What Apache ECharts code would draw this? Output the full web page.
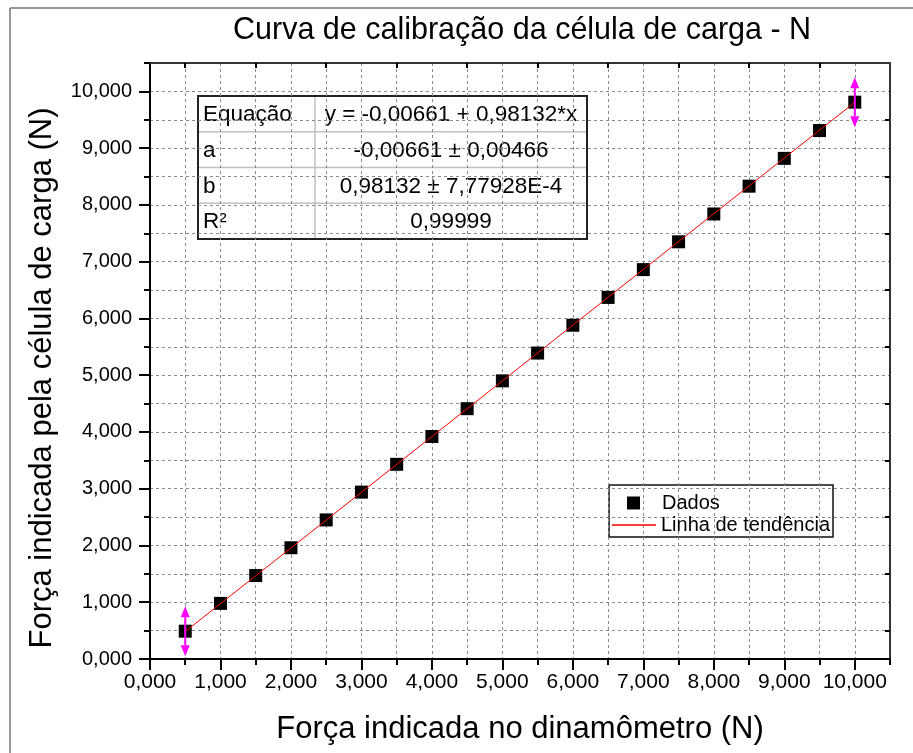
<!DOCTYPE html>
<html>
<head>
<meta charset="utf-8">
<script src="https://cdn.jsdelivr.net/npm/echarts@6/dist/echarts.min.js"></script>
<style>
  html, body { margin: 0; padding: 0; background: #fff; }
  #chart { width: 913px; height: 753px; }
</style>
</head>
<body>
<div id="chart"></div>
<script>
// Calibração da célula de carga: força de referência (dinamômetro) x força lida
const forcaDinamometro = [0.5, 1, 1.5, 2, 2.5, 3, 3.5, 4, 4.5, 5, 5.5, 6, 6.5, 7, 7.5, 8, 8.5, 9, 9.5, 10];
const forcaCelula = [0.49, 0.98, 1.47, 1.96, 2.45, 2.94, 3.43, 3.92, 4.41, 4.90,
                     5.39, 5.88, 6.37, 6.86, 7.35, 7.84, 8.33, 8.82, 9.31, 9.81];

// Ajuste linear y = a + b*x
const ajusteA = -0.00661;
const ajusteAErro = 0.00466;
const ajusteB = 0.98132;
const ajusteBErro = 7.77928e-4;
const ajusteR2 = 0.99999;

// Posições dos rótulos e marcas dos eixos
const rotulosEixo = [0, 1, 2, 3, 4, 5, 6, 7, 8, 9, 10];
const marcasMeio = [0.5, 1.5, 2.5, 3.5, 4.5, 5.5, 6.5, 7.5, 8.5, 9.5];

const FONT = '"Liberation Sans", Arial, sans-serif';
const fmt = (v, d) => v.toFixed(d).replace('.', ',');
const fmtExp = (v, d) => v.toExponential(d).replace('.', ',').replace('e', 'E');

const pontos = forcaDinamometro.map((x, i) => [x, forcaCelula[i]]);
const xIni = forcaDinamometro[0];
const xFim = forcaDinamometro[forcaDinamometro.length - 1];
const linhaTendencia = [[xIni, ajusteA + ajusteB * xIni], [xFim, ajusteA + ajusteB * xFim]];
const marcadoresFaixa = [pontos[0], pontos[pontos.length - 1]];

const labelFmt = v => (Math.abs(v - Math.round(v)) < 1e-9 ? fmt(v, 3) : '');

function mainAxis(extra) {
  return Object.assign({
    type: 'value', min: 0, max: 10.5, interval: 0.5,
    axisLine: { onZero: false, lineStyle: { color: '#000', width: 2 } },
    axisTick: { show: true, length: 6, lineStyle: { color: '#000', width: 2 } },
    splitLine: { show: true, lineStyle: { color: '#8a8a8a', width: 1, type: [3, 3] } },
    nameLocation: 'middle'
  }, extra);
}
function majorTickAxis(extra) {
  return Object.assign({
    type: 'value', min: 0, max: 10.5, interval: 1,
    axisLine: { show: false, onZero: false },
    axisTick: { show: true, customValues: rotulosEixo, length: 11, lineStyle: { color: '#000', width: 2 } },
    axisLabel: { show: false }, splitLine: { show: false }
  }, extra);
}
function frameAxis(extra) {
  return Object.assign({
    type: 'value', min: 0, max: 10.5, interval: 0.5,
    axisLine: { show: true, onZero: false, lineStyle: { color: '#333', width: 2 } },
    axisTick: { show: true, inside: true, customValues: marcasMeio, length: 5, lineStyle: { color: '#000', width: 2 } },
    axisLabel: { show: false }, splitLine: { show: false }
  }, extra);
}

// Tabela com os parâmetros do ajuste
const tabX = 198, tabY = 96, tabW = 389, tabH = 143, colX = 315;
const tabFont = '22.5px ' + FONT;
const linhasTab = [
  ['Equação', 'y = ' + fmt(ajusteA, 5) + ' + ' + fmt(ajusteB, 5) + '*x'],
  ['a', fmt(ajusteA, 5) + ' ± ' + fmt(ajusteAErro, 5)],
  ['b', fmt(ajusteB, 5) + ' ± ' + fmtExp(ajusteBErro, 5)],
  ['R²', fmt(ajusteR2, 5)]
];
const rowH = tabH / linhasTab.length;
const tabela = [{
  type: 'rect', shape: { x: tabX, y: tabY, width: tabW, height: tabH },
  style: { fill: '#fff', stroke: 'none' }
}];
linhasTab.forEach((r, i) => {
  const cy = tabY + rowH * (i + 0.5) + 1;
  if (i > 0) tabela.push({ type: 'line', shape: { x1: tabX, y1: tabY + rowH * i, x2: tabX + tabW, y2: tabY + rowH * i },
    style: { stroke: '#c0c0c0', lineWidth: 1.5 } });
  tabela.push({ type: 'text', x: tabX + 5, y: cy,
    style: { text: r[0], font: tabFont, fill: '#000', align: 'left', verticalAlign: 'middle' } });
  tabela.push({ type: 'text', x: (colX + tabX + tabW) / 2, y: cy,
    style: { text: r[1], font: tabFont, fill: '#000', align: 'center', verticalAlign: 'middle' } });
});
tabela.push({ type: 'line', shape: { x1: colX, y1: tabY, x2: colX, y2: tabY + tabH }, style: { stroke: '#c0c0c0', lineWidth: 1.5 } });
tabela.push({ type: 'rect', shape: { x: tabX, y: tabY, width: tabW, height: tabH }, style: { fill: 'none', stroke: '#222', lineWidth: 2 } });

const chart = echarts.init(document.getElementById('chart'), null, { renderer: 'canvas' });
chart.setOption({
  animation: false,
  backgroundColor: '#fff',
  title: {
    text: 'Curva de calibração da célula de carga - N',
    left: 228, top: 10,
    textStyle: { fontFamily: FONT, fontSize: 30.5, fontWeight: 'normal', color: '#000' }
  },
  grid: { left: 150, right: 23, top: 63, bottom: 94, containLabel: false },
  xAxis: [
    mainAxis({ position: 'bottom', name: 'Força indicada no dinamômetro (N)', nameGap: 55,
      nameTextStyle: { fontFamily: FONT, fontSize: 31, color: '#000' },
      axisLabel: { customValues: rotulosEixo, formatter: labelFmt, fontFamily: FONT, fontSize: 21, color: '#000', margin: 13 } }),
    majorTickAxis({ position: 'bottom' }),
    frameAxis({ position: 'top' })
  ],
  yAxis: [
    mainAxis({ position: 'left', name: 'Força indicada pela célula de carga (N)', nameGap: 92,
      nameTextStyle: { fontFamily: FONT, fontSize: 31, color: '#000', padding: [0, 34, 0, 0] },
      axisLabel: { customValues: rotulosEixo, formatter: labelFmt, fontFamily: FONT, fontSize: 20, color: '#000', margin: 18 } }),
    majorTickAxis({ position: 'left' }),
    frameAxis({ position: 'right' })
  ],
  legend: [
    {
      data: [{ name: 'Dados', icon: 'rect' }], selectedMode: false,
      left: 627, top: 493, padding: 0, itemWidth: 13, itemHeight: 13,
      textStyle: { fontFamily: FONT, fontSize: 20, color: '#000', padding: [0, 0, 0, 17] }
    },
    {
      data: [{ name: 'Linha de tendência', icon: 'path://M0,0L44,0L44,1.4L0,1.4Z' }], selectedMode: false,
      left: 612, top: 515, padding: 0, itemWidth: 44, itemHeight: 14,
      textStyle: { fontFamily: FONT, fontSize: 20, color: '#000' }
    }
  ],
  graphic: [
    { type: 'line', shape: { x1: 10, y1: 8, x2: 913, y2: 8 }, style: { stroke: '#777', lineWidth: 1.5 }, silent: true },
    { type: 'line', shape: { x1: 10, y1: 8, x2: 10, y2: 753 }, style: { stroke: '#777', lineWidth: 1.5 }, silent: true },
    { type: 'rect', shape: { x: 609, y: 485, width: 224, height: 52 }, style: { fill: '#fff', stroke: '#111', lineWidth: 1.5 }, z: 0, zlevel: 0 },
    { type: 'group', children: tabela }
  ],
  series: [
    {
      name: 'Dados', type: 'scatter', xAxisIndex: 0, yAxisIndex: 0,
      data: pontos, symbol: 'rect', symbolSize: 13,
      itemStyle: { color: '#000', opacity: 1 }, z: 2
    },
    {
      name: 'Linha de tendência', type: 'line', xAxisIndex: 0, yAxisIndex: 0,
      data: linhaTendencia, symbol: 'none',
      lineStyle: { color: '#ff0000', width: 1 }, itemStyle: { color: '#ff0000' }, z: 3
    },
    {
      name: 'faixa', type: 'custom', xAxisIndex: 0, yAxisIndex: 0, z: 4,
      data: marcadoresFaixa,
      renderItem: (params, api) => {
        const p = api.coord([api.value(0), api.value(1)]);
        const h = 25, ah = 11, aw = 4.5, c = '#ff00ff';
        return {
          type: 'group', children: [
            { type: 'line', shape: { x1: p[0], y1: p[1] - h + ah, x2: p[0], y2: p[1] + h - ah }, style: { stroke: c, lineWidth: 2 } },
            { type: 'polygon', shape: { points: [[p[0], p[1] - h], [p[0] - aw, p[1] - h + ah], [p[0] + aw, p[1] - h + ah]] }, style: { fill: c } },
            { type: 'polygon', shape: { points: [[p[0], p[1] + h], [p[0] - aw, p[1] + h - ah], [p[0] + aw, p[1] + h - ah]] }, style: { fill: c } }
          ]
        };
      }
    }
  ]
});
</script>
</body>
</html>
